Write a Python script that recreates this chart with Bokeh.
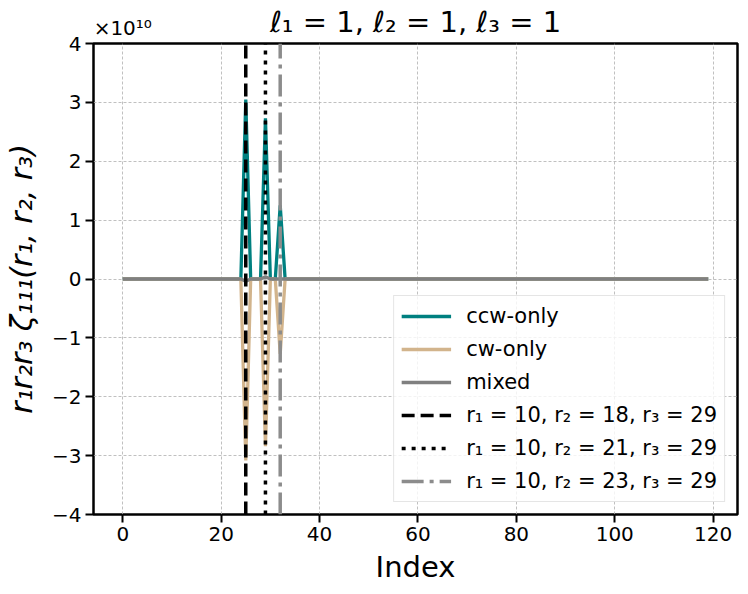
import numpy as np
from bokeh.plotting import figure
from bokeh.models import (Legend, LegendItem, CustomJSTickFormatter,
                          LinearAxis, FixedTicker)
from bokeh.embed import file_html
from bokeh.resources import INLINE

# ---- data ----
n_points = 120
index = list(range(n_points))
# non-zero entries of each series (index, value); every other index is 0
ccw_idx = [25, 29, 32]
ccw_val = [3.05e10, 2.73e10, 1.25e10]
cw_idx = [25, 29, 32]
cw_val = [-3.08e10, -2.84e10, -1.27e10]
mixed_idx = [25, 29]
mixed_val = [-0.04e10, 0.04e10]

triplet_index = [25, 29, 32]
triplet_labels = ["r₁ = 10, r₂ = 18, r₃ = 29",
                  "r₁ = 10, r₂ = 21, r₃ = 29",
                  "r₁ = 10, r₂ = 23, r₃ = 29"]
series_labels = ["ccw-only", "cw-only", "mixed"]
title_text = "ℓ₁ = 1, ℓ₂ = 1, ℓ₃ = 1"
offset_text = "×10¹⁰"
x_ticks = [0, 20, 40, 60, 80, 100, 120]
y_ticks = [-4e10, -3e10, -2e10, -1e10, 0, 1e10, 2e10, 3e10, 4e10]


def dense(idx, val):
    arr = np.zeros(n_points)
    arr[idx] = val
    return arr


ccw = dense(ccw_idx, ccw_val)
cw = dense(cw_idx, cw_val)
mixed = dense(mixed_idx, mixed_val)

FONT = "DejaVu Sans"
x_lo, x_hi = -5.95, 124.95
y_lo, y_hi = -4e10, 4e10
W, H = 748, 594
BL, BR, BT, BB = 93, 11, 43, 80

p = figure(width=W, height=H, output_backend="svg", toolbar_location=None,
           x_range=(x_lo, x_hi), y_range=(y_lo, y_hi),
           min_border_left=BL, min_border_right=BR, min_border_top=BT,
           min_border_bottom=BB)

p.outline_line_color = "black"
p.outline_line_width = 2.5
p.outline_line_alpha = 1

for ax in (p.xaxis, p.yaxis):
    ax.axis_line_color = None
    ax.major_tick_line_width = 2
    ax.major_tick_line_color = "black"
    ax.major_tick_out = 8
    ax.major_tick_in = 0
    ax.minor_tick_line_color = None
    ax.major_label_text_font = FONT
    ax.major_label_text_font_size = "20px"
    ax.major_label_text_color = "black"
    ax.major_label_standoff = 4
    ax.axis_label_text_font = FONT
    ax.axis_label_text_font_style = "normal"
    ax.axis_label_text_color = "black"

p.xaxis.ticker = x_ticks
p.yaxis.ticker = y_ticks
p.yaxis.formatter = CustomJSTickFormatter(
    code="return (tick/1e10).toFixed(0).replace('-', '\u2212');")
p.xaxis.axis_label = "Index"
p.xaxis.axis_label_text_font_size = "29px"
p.xaxis.axis_label_standoff = 6
p.yaxis.axis_label = "r₁r₂r₃ ζ₁₁₁(r₁, r₂, r₃)"
p.yaxis.axis_label_text_font_size = "30px"
p.yaxis.axis_label_text_font_style = "italic"
p.yaxis.axis_label_standoff = 10

# top panel: offset text "×10¹⁰" (as a tick label at the left) and the title
top = LinearAxis(ticker=FixedTicker(ticks=[x_ticks[0]]),
                 formatter=CustomJSTickFormatter(code="return '%s';" % offset_text),
                 axis_line_color=None, major_tick_line_color=None,
                 minor_tick_line_color=None,
                 major_tick_out=0, major_tick_in=0, major_label_standoff=4,
                 major_label_text_font=FONT, major_label_text_font_size="20px",
                 major_label_text_color="black",
                 axis_label=title_text, axis_label_text_font=FONT,
                 axis_label_text_font_size="29px",
                 axis_label_text_font_style="normal",
                 axis_label_text_color="black", axis_label_standoff=-26)
p.add_layout(top, "above")

p.grid.grid_line_color = "#b0b0b0"
p.grid.grid_line_dash = "3 2"
p.grid.grid_line_width = 0.8
p.xgrid.ticker = x_ticks
p.ygrid.ticker = y_ticks

colors = ["#008080", "#d2b48c", "#808080"]
r_ccw = p.line(index, ccw, line_color=colors[0], line_width=3.3)
r_cw = p.line(index, cw, line_color=colors[1], line_width=3.3)
r_mix = p.line(index, mixed, line_color=colors[2], line_width=3.3)

v_colors = ["black", "black", "#8c8c8c"]
v_dash = ["13 6", "4 6", "22 6 4 6"]
v_items = []
for loc, col, dash, lab in zip(triplet_index, v_colors, v_dash, triplet_labels):
    r = p.line(x=[loc, loc], y=[y_lo, y_hi], line_color=col, line_width=3.5,
               line_dash=dash)
    v_items.append(LegendItem(label=lab, renderers=[r]))

items = [LegendItem(label=series_labels[0], renderers=[r_ccw]),
         LegendItem(label=series_labels[1], renderers=[r_cw]),
         LegendItem(label=series_labels[2], renderers=[r_mix])] + v_items

legend = Legend(items=items, location="bottom_right",
                label_text_font=FONT, label_text_font_size="21px",
                label_text_color="black",
                glyph_width=50, glyph_height=26, label_height=26,
                label_standoff=15, spacing=7, padding=7, margin=12,
                border_line_color="#cccccc", border_line_width=1.2,
                background_fill_color="white", background_fill_alpha=0.8)
p.add_layout(legend)

open("out.html", "w").write(file_html(p, INLINE))
